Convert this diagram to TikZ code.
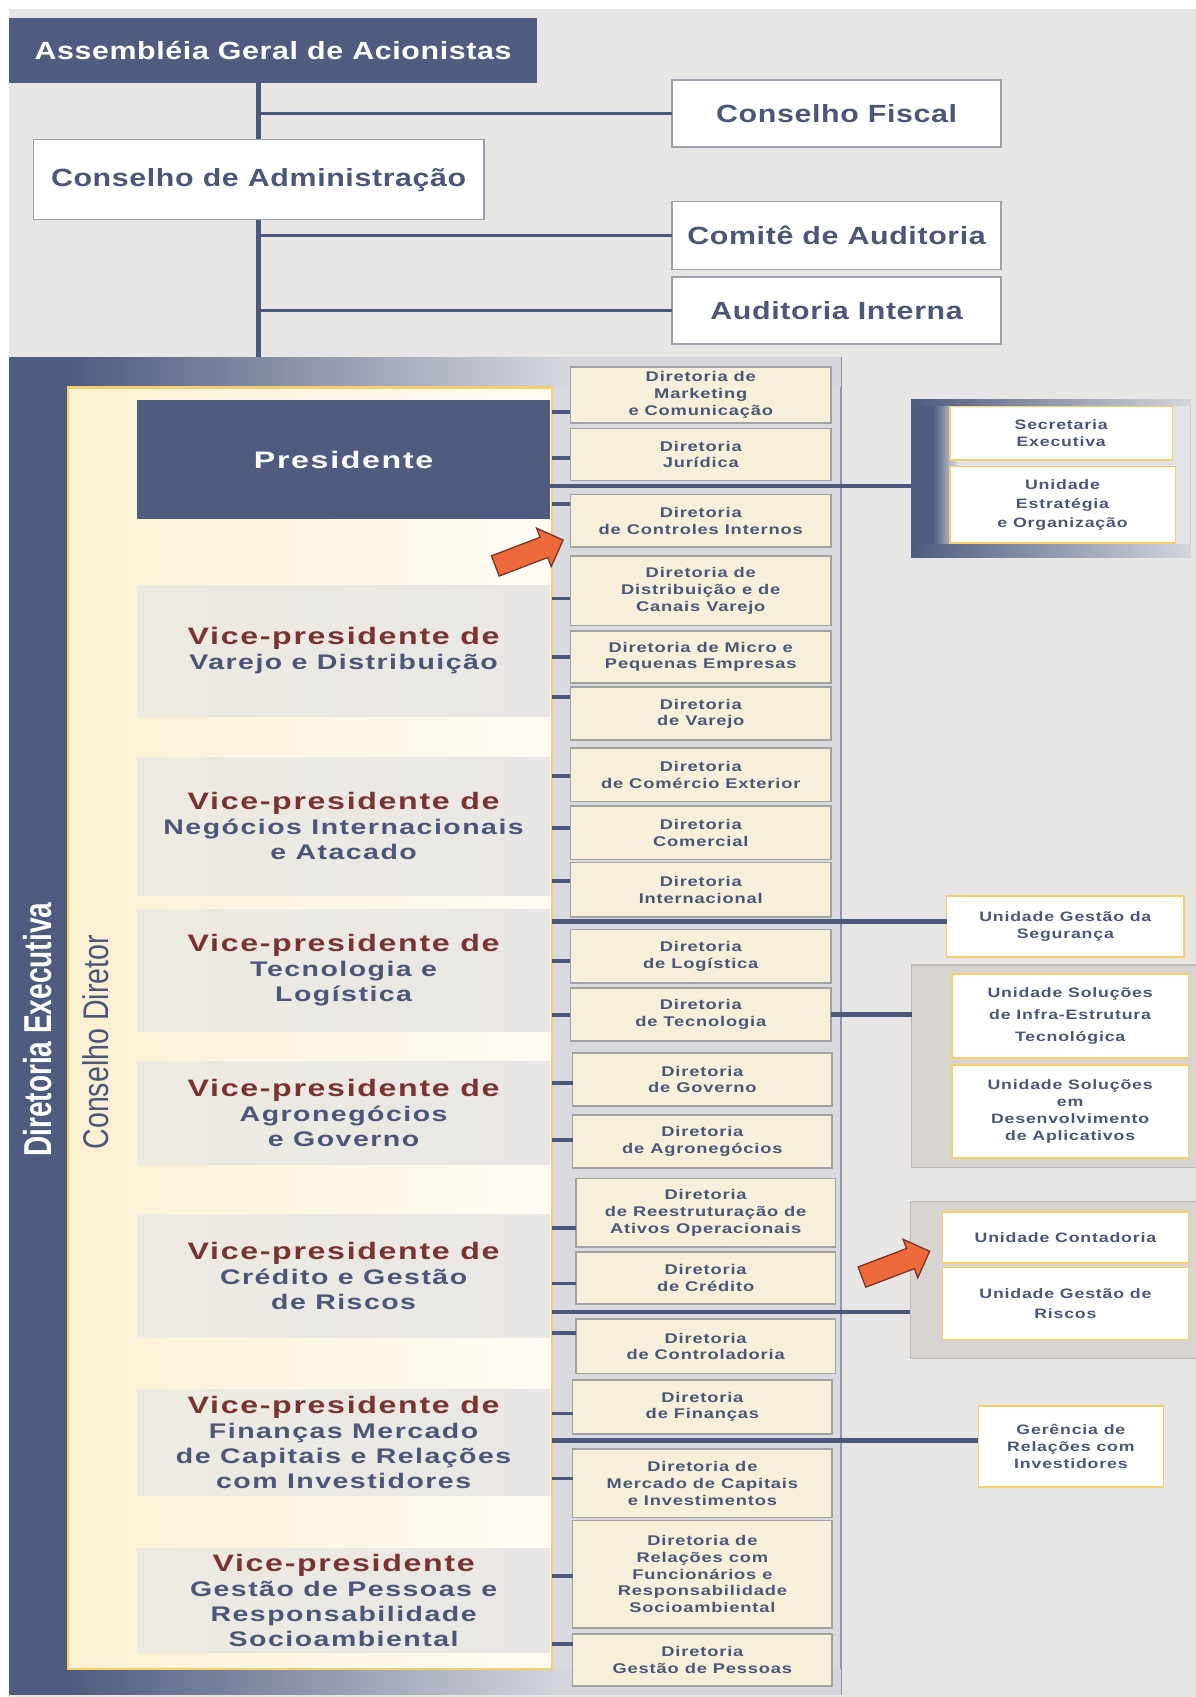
\documentclass[tikz,border=0pt]{standalone}
\usepackage{fontspec}
\setmainfont{Liberation Sans}
\newfontfamily\topf{Liberation Sans}[FakeStretch=1.22,LetterSpace=2.5]
\newfontfamily\vpf{Liberation Sans}[FakeStretch=1.35,LetterSpace=7]
\newfontfamily\dirf{Liberation Sans}[FakeStretch=1.3,LetterSpace=6]
\newfontfamily\sidef{Liberation Sans}[FakeStretch=0.72]
\newfontfamily\sideg{Liberation Sans}[FakeStretch=0.8]

\definecolor{dblue}{HTML}{4F5B7F}
\definecolor{lblue}{HTML}{4C577C}
\definecolor{bggray}{HTML}{E8E6E4}
\definecolor{txt}{HTML}{4B5679}
\definecolor{maroon}{HTML}{7A3330}
\definecolor{cream}{HTML}{FAF0D2}
\definecolor{creamw}{HTML}{FEFCF6}
\definecolor{yellowb}{HTML}{F5CF6A}
\definecolor{dirfill}{HTML}{F6F0DB}
\definecolor{dirline}{HTML}{A2A2A2}
\definecolor{vpl}{HTML}{EDEAE2}
\definecolor{vpr}{HTML}{E9E7E6}
\definecolor{colgray}{HTML}{D9DADF}
\definecolor{bandgray}{HTML}{D4D6DC}
\definecolor{edgeline}{HTML}{8F96AA}
\definecolor{secfill}{HTML}{E3E3E7}
\definecolor{secedge}{HTML}{C9CACE}
\definecolor{unitpanel}{HTML}{D8D5D1}
\definecolor{unitedge}{HTML}{BDB9B6}
\definecolor{boxline}{HTML}{9CA1AE}
\definecolor{orange}{HTML}{EE6A3D}
\definecolor{arrowline}{HTML}{7C3523}

% a rectangle node given by its corners: style, name, x1, y1, x2, y2, text
\newcommand\rbox[7]{\node[#1, minimum width={#5-#3}, minimum height={#6-#4}, align=center] (#2) at ({(#3+#5)/2},{(#4+#6)/2}) {#7};}
\newcommand\vpa{\color{maroon}\fontsize{22}{23}\selectfont}

\tikzset{
  every node/.style={inner sep=0pt, outer sep=0pt},
  topbox/.style={draw=boxline, fill=white, line width=1.4pt, text=txt,
    font=\topf\bfseries\fontsize{23}{27}\selectfont},
  agmbox/.style={fill=dblue, text=white, font=\topf\bfseries\fontsize{23}{27}\selectfont},
  presbox/.style={fill=dblue, text=white, font=\vpf\bfseries\fontsize{22}{26}\selectfont},
  vpbox/.style={left color=vpl, right color=vpr, text=txt,
    font=\vpf\bfseries\fontsize{19.5}{23}\selectfont},
  dirbox/.style={draw=dirline, fill=dirfill, line width=1.5pt, text=txt,
    font=\dirf\bfseries\fontsize{13}{15.5}\selectfont},
  unitbox/.style={draw=yellowb, fill=white, line width=1.5pt, text=txt,
    font=\dirf\bfseries\fontsize{12.6}{15.5}\selectfont},
  unitpanelbox/.style={draw=unitedge, fill=unitpanel, line width=1pt},
  creampanel/.style={draw=yellowb, line width=2pt, left color=cream, right color=creamw},
  conn/.style={draw=lblue, line width=3pt},
  trunkline/.style={draw=lblue, line width=4.5pt},
  mainline/.style={draw=lblue, line width=4pt},
  tickline/.style={draw=lblue, line width=3.5pt},
  blockarrow/.style={fill=orange, draw=arrowline, line width=1.2pt, line join=miter},
}

\begin{document}
\begin{tikzpicture}[x=1pt,y=-1pt]
\useasboundingbox (0,0) rectangle (1105,1568);
\fill[white] (0,0) rectangle (1105,1568);
\fill[bggray] (8,8) rectangle (1105,1568);

% ---------- governance ----------
\rbox{agmbox}{agm}{8.5}{17}{496}{76.5}{Assembléia Geral de Acionistas}
\rbox{draw=none}{ca0}{31}{129}{447}{203}{}
\rbox{draw=none}{de}{8}{330}{777}{1566}{}

\draw[trunkline] (agm.south -| ca0.center) -- (ca0.center |- de.north);
\rbox{topbox}{cf}{621}{74}{925}{136}{Conselho Fiscal}
\rbox{topbox}{cau}{621}{186}{925}{249}{Comitê de Auditoria}
\rbox{topbox}{ai}{621}{256}{925}{318}{Auditoria Interna}
\draw[conn] (ca0.center |- cf.west) -- (cf.west);
\draw[conn] (ca0.center |- cau.west) -- (cau.west);
\draw[conn] (ca0.center |- ai.west) -- (ai.west);
\rbox{topbox}{ca}{31}{129}{447}{203}{Conselho de Administração}

% ---------- executive board panel ----------
\fill[colgray] (de.north west) rectangle (de.south east);
\draw[draw=edgeline, line width=1.5pt] (de.north east) -- (de.south east);
\fill[dblue] (de.north west) rectangle (63,1566);
\shade[left color=dblue, right color=bandgray] (63,330) rectangle (520,358);
\fill[bandgray] (520,330) rectangle (777,358);
\shade[left color=dblue, right color=bandgray] (63,1542) rectangle (520,1566);
\fill[bandgray] (520,1542) rectangle (777,1566);

\rbox{creampanel}{cd}{63}{358}{510}{1542}{}

\rbox{presbox}{pres}{127}{370}{508}{480}{Presidente}
\rbox{vpbox}{v1}{127}{541}{508}{662}{{\vpa Vice-presidente de}\\Varejo e Distribuição}
\rbox{vpbox}{v2}{127}{700}{508}{827}{{\vpa Vice-presidente de}\\Negócios Internacionais\\e Atacado}
\rbox{vpbox}{v3}{127}{840}{508}{953}{{\vpa Vice-presidente de}\\Tecnologia e\\Logística}
\rbox{vpbox}{v4}{127}{981}{508}{1076}{{\vpa Vice-presidente de}\\Agronegócios\\e Governo}
\rbox{vpbox}{v5}{127}{1122}{508}{1236}{{\vpa Vice-presidente de}\\Crédito e Gestão\\de Riscos}
\rbox{vpbox}{v6}{127}{1284}{508}{1382}{{\vpa Vice-presidente de}\\Finanças Mercado\\de Capitais e Relações\\com Investidores}
\rbox{vpbox}{v7}{127}{1431}{508}{1527}{{\vpa Vice-presidente}\\Gestão de Pessoas e\\Responsabilidade\\Socioambiental}

\node[rotate=90, text=white, font=\sidef\bfseries\fontsize{36}{40}\selectfont] (dexe) at (35,951.5) {Diretoria Executiva};
\node[rotate=90, text=txt, font=\sideg\fontsize{33}{36}\selectfont] (cdir) at (88.5,963) {Conselho Diretor};

% ---------- right-hand units ----------
\rbox{draw=secedge, fill=secfill, line width=1pt}{pa}{842}{369}{1100}{515.5}{}
\fill[dblue] (pa.north west) rectangle (862,515.5);
\shade[left color=dblue, right color=secfill] (862,369) rectangle (886,515.5);
\shade[left color=dblue, right color=bandgray] (842,369) rectangle (1100,375);
\shade[left color=dblue, right color=bandgray] (842,503) rectangle (1100,515.5);
\rbox{unitbox}{ua1}{877.5}{375.5}{1083.5}{425}{Secretaria\\Executiva}
\rbox{unitbox, font=\dirf\bfseries\fontsize{12.6}{17.5}\selectfont}{ua2}{877.5}{431}{1086}{502}{Unidade\\Estratégia\\e Organização}

\rbox{unitbox}{ub}{874.7}{828}{1094}{884}{Unidade Gestão da\\Segurança}

\rbox{unitpanelbox}{pc}{842.6}{891.6}{1108}{1079}{}
\rbox{unitbox, font=\dirf\bfseries\fontsize{12.6}{20.5}\selectfont}{uc1}{879.6}{900}{1098}{977.6}{Unidade Soluções\\de Infra-Estrutura\\Tecnológica}
\rbox{unitbox}{uc2}{879.6}{984}{1098}{1070}{Unidade Soluções\\em\\Desenvolvimento\\de Aplicativos}

\rbox{unitpanelbox}{pd}{841}{1110.5}{1108}{1255}{}
\rbox{unitbox}{ud1}{870.8}{1119.8}{1098}{1167}{Unidade Contadoria}
\rbox{unitbox, font=\dirf\bfseries\fontsize{12.6}{18}\selectfont}{ud2}{870.8}{1171}{1098}{1237.7}{Unidade Gestão de\\Riscos}

\rbox{unitbox}{ue}{904}{1299}{1075}{1374}{Gerência de\\Relações com\\Investidores}

% ---------- long connectors ----------
\coordinate (ya) at (0,449);
\coordinate (yb) at (0,851.5);
\coordinate (yd) at (0,1212);
\coordinate (ye) at (0,1331);
\draw[mainline] (pres.east |- ya) -- (pa.west |- ya);
\draw[mainline] (cd.east |- yb) -- (ub.west |- yb);
\draw[mainline] (cd.east |- yd) -- (pd.west |- yd);
\draw[mainline] (cd.east |- ye) -- (ue.west |- ye);

% ---------- directorates ----------
\rbox{dirbox}{d1}{527}{339}{768}{391}{Diretoria de\\Marketing\\e Comunicação}
\rbox{dirbox}{d2}{527}{396}{768}{444}{Diretoria\\Jurídica}
\rbox{dirbox}{d3}{527}{457}{768}{505.5}{Diretoria\\de Controles Internos}
\rbox{dirbox}{d4}{527}{514}{768}{578}{Diretoria de\\Distribuição e de\\Canais Varejo}
\rbox{dirbox}{d5}{527}{583}{768}{631}{Diretoria de Micro e\\Pequenas Empresas}
\rbox{dirbox}{d6}{527}{635}{768}{684}{Diretoria\\de Varejo}
\rbox{dirbox}{d7}{527}{691}{768}{740.5}{Diretoria\\de Comércio Exterior}
\rbox{dirbox}{d8}{527}{745}{768}{794}{Diretoria\\Comercial}
\rbox{dirbox}{d9}{527}{797}{768}{847}{Diretoria\\Internacional}
\rbox{dirbox}{d10}{527}{859}{768}{908}{Diretoria\\de Logística}
\rbox{dirbox}{d11}{527}{913}{768}{962}{Diretoria\\de Tecnologia}
\rbox{dirbox}{d12}{529}{973}{769}{1022}{Diretoria\\de Governo}
\rbox{dirbox}{d13}{529}{1030}{769}{1079}{Diretoria\\de Agronegócios}
\rbox{dirbox}{d14}{532}{1089}{772}{1152}{Diretoria\\de Reestruturação  de\\Ativos Operacionais}
\rbox{dirbox}{d15}{532}{1157}{772}{1205}{Diretoria\\de Crédito}
\rbox{dirbox}{d16}{532}{1219}{772}{1269}{Diretoria\\de Controladoria}
\rbox{dirbox}{d17}{529}{1275}{769}{1325}{Diretoria\\de Finanças}
\rbox{dirbox}{d18}{529}{1339}{769}{1402}{Diretoria de\\Mercado de Capitais\\e Investimentos}
\rbox{dirbox}{d19}{529}{1405}{769}{1504}{Diretoria de\\Relações com\\Funcionários e\\Responsabilidade\\Socioambiental}
\rbox{dirbox}{d20}{529}{1510}{769}{1558}{Diretoria\\Gestão de Pessoas}

\foreach \n/\y in {d1/381, d2/423, d3/466, d4/553, d5/607, d6/644, d7/717, d8/765,
  d9/814, d10/888, d11/938, d12/1001, d13/1053, d14/1135, d15/1186, d16/1232,
  d17/1306, d18/1366, d19/1456, d20/1519}{
  \coordinate (ty) at (0,\y);
  \draw[tickline] (cd.east |- ty) -- (\n.west |- ty);
}
\draw[mainline] (d11.east) -- (pc.west |- d11.east);

% ---------- highlight arrows ----------
\begin{scope}[shift={(457.7,522.9)}, rotate=20.9]
  \draw[blockarrow] (0,-10) -- (48,-10) -- (48,-19) -- (67,0) -- (48,19) -- (48,10) -- (0,10) -- cycle;
\end{scope}
\begin{scope}[shift={(796.4,1180)}, rotate=20.9]
  \draw[blockarrow] (0,-10) -- (48,-10) -- (48,-19) -- (67,0) -- (48,19) -- (48,10) -- (0,10) -- cycle;
\end{scope}
\end{tikzpicture}
\end{document}
